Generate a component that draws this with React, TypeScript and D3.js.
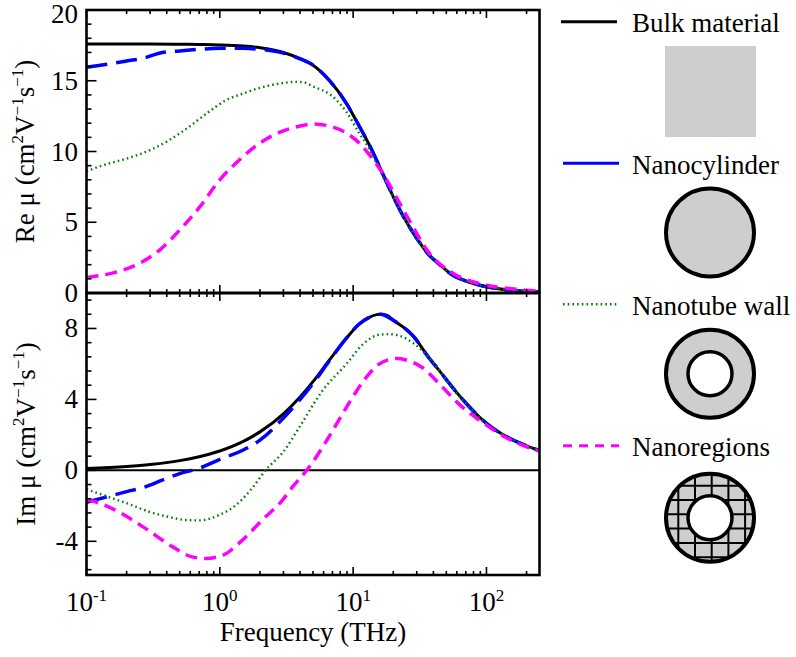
import React from "react";
import * as d3 from "d3";

// ---------- data ----------
const bulkFreq = [0.1, 0.2, 0.3, 0.5, 0.7, 1, 1.5, 2, 3, 4, 5, 6.6, 8.9, 11.1, 13, 15, 16, 18, 20, 25, 28, 37, 44, 56, 70, 100, 150, 200, 250];
const bulkRe = [17.6, 17.6, 17.6, 17.58, 17.56, 17.53, 17.45, 17.33, 17.0, 16.56, 16.1, 15.05, 13.4, 11.8, 10.6, 9.4, 8.8, 7.75, 6.8, 5.05, 4.3, 2.7, 2.05, 1.25, 0.85, 0.44, 0.2, 0.12, 0.08];
const bulkIm = [0.11, 0.22, 0.33, 0.55, 0.77, 1.09, 1.63, 2.17, 3.19, 4.14, 5.0, 6.2, 7.45, 8.25, 8.6, 8.78, 8.8, 8.73, 8.46, 7.95, 7.6, 6.35, 5.65, 4.65, 3.8, 2.65, 1.8, 1.38, 1.12];

const cylFreq = [0.1, 0.15, 0.2, 0.27, 0.37, 0.5, 0.7, 1, 1.5, 2, 3, 4, 5, 6.6, 8.9, 11.1, 13, 16, 20, 25, 28, 37, 44, 56, 70, 100, 150, 200, 250];
const cylRe = [15.95, 16.2, 16.4, 16.6, 17.0, 17.1, 17.22, 17.3, 17.3, 17.22, 16.95, 16.55, 16.1, 15.05, 13.4, 11.8, 10.6, 8.8, 6.8, 5.05, 4.3, 2.7, 2.05, 1.25, 0.85, 0.44, 0.2, 0.12, 0.08];
const cylIm = [-1.8, -1.45, -1.2, -0.95, -0.55, -0.18, 0.12, 0.62, 1.15, 1.7, 2.95, 4.0, 4.9, 6.15, 7.45, 8.25, 8.6, 8.8, 8.46, 7.95, 7.6, 6.35, 5.65, 4.65, 3.8, 2.65, 1.8, 1.38, 1.12];

const tubeReFreq = [0.1, 0.13, 0.2, 0.3, 0.4, 0.56, 0.8, 1.1, 1.5, 2, 2.5, 3, 3.6, 4.2, 5, 7, 8.9, 11.1, 13, 16, 20, 25, 28, 37, 44, 56, 70, 100, 150, 200, 250];
const tubeRe = [8.6, 9.0, 9.5, 10.1, 10.7, 11.6, 12.7, 13.6, 14.1, 14.5, 14.72, 14.84, 14.92, 14.9, 14.6, 13.9, 12.8, 11.3, 10.3, 8.6, 6.75, 5.05, 4.3, 2.72, 2.07, 1.28, 0.86, 0.45, 0.2, 0.12, 0.08];
const tubeImFreq = [0.1, 0.14, 0.2, 0.3, 0.4, 0.56, 0.7, 1.0, 1.3, 1.75, 2.2, 3, 4, 5.9, 8.9, 11.8, 15.8, 18.6, 22, 28, 41.8, 56, 70, 100, 150, 200, 250];
const tubeIm = [-1.07, -1.45, -1.85, -2.35, -2.6, -2.8, -2.82, -2.5, -2.0, -1.0, 0.0, 1.05, 2.5, 4.5, 6.0, 7.1, 7.65, 7.68, 7.6, 7.2, 5.9, 4.6, 3.75, 2.62, 1.8, 1.37, 1.1];

const regReFreq = [0.1, 0.17, 0.25, 0.35, 0.5, 0.71, 1, 1.4, 2, 2.8, 4, 5, 6.6, 8.9, 11.1, 13.3, 16.7, 21, 28, 37, 56, 100, 160, 250];
const regRe = [1.1, 1.5, 2.1, 3.0, 4.45, 6.1, 8.0, 9.4, 10.6, 11.35, 11.8, 11.95, 11.8, 11.3, 10.6, 9.75, 8.45, 6.8, 4.7, 2.85, 1.4, 0.55, 0.28, 0.13];
const regImFreq = [0.1, 0.12, 0.175, 0.28, 0.44, 0.62, 0.78, 1.04, 1.47, 2.08, 2.9, 3.5, 4.7, 6.6, 8.9, 12, 15.7, 21, 25, 33, 44, 62, 100, 158, 250];
const regIm = [-1.65, -1.8, -2.35, -3.3, -4.3, -4.88, -4.97, -4.8, -3.95, -2.8, -1.75, -0.95, 0.2, 1.9, 3.55, 5.05, 6.0, 6.3, 6.22, 5.8, 4.9, 3.75, 2.55, 1.65, 1.08];

const legendLabels = ["Bulk material", "Nanocylinder", "Nanotube wall", "Nanoregions"];
const seriesColors = ["#000000", "#0000ff", "#008000", "#ff00ff"];

const xTickExps = [-1, 0, 1, 2];
const reTicks = [0, 5, 10, 15, 20];
const imTicks = [-4, 0, 4, 8];

// ---------- layout ----------
const W = 796, H = 657;
const L = 86.5, R = 539.5, T = 10, M = 293, B = 575;
const FONT = "'Liberation Serif', 'Times New Roman', Times, 'DejaVu Serif', 'Noto Serif', serif";
const fontStyle = { fontFamily: FONT };

const x = d3.scaleLog().domain([0.1, 250]).range([L, R]);
const yRe = d3.scaleLinear().domain([0, 20]).range([M, T]);
const yIm = d3.scaleLinear().domain([-5.9, 10]).range([B, M]);

const styles = [
  { width: 3, dash: undefined },
  { width: 3.5, dash: "21,9" },
  { width: 2.4, dash: "1.6,3.1" },
  { width: 3.5, dash: "12,7" },
];

function pathFor(fr: number[], vals: number[], y: d3.ScaleLinear<number, number>) {
  const line = d3
    .line<number>()
    .x((_, i) => x(fr[i]))
    .y((v) => y(v))
    .curve(d3.curveMonotoneX);
  return line(vals) || "";
}

const minorX: number[] = [];
[0.1, 1, 10, 100].forEach((d) => {
  for (let k = 2; k <= 9; k++) {
    const v = d * k;
    if (v <= 250) minorX.push(v);
  }
});
const minorRe = d3.range(0, 21).filter((v) => v % 5 !== 0);
const minorIm = d3.range(-7, 13).filter((k) => k % 5 !== 0).map((k) => k * 0.8);

function XTicks({ y0, dir }: { y0: number; dir: number }) {
  return (
    <g stroke="#000" strokeWidth={1.6}>
      {xTickExps.map((e) => (
        <line key={"M" + e} x1={x(Math.pow(10, e))} x2={x(Math.pow(10, e))} y1={y0} y2={y0 + dir * 8} />
      ))}
      {minorX.map((v, i) => (
        <line key={"m" + i} x1={x(v)} x2={x(v)} y1={y0} y2={y0 + dir * 4} />
      ))}
    </g>
  );
}

function SupLabel({ prefix, tx, ty }: { prefix: string; tx: number; ty: number }) {
  return (
    <text transform={`translate(${tx},${ty}) rotate(-90)`} textAnchor="middle" style={fontStyle} fontSize={27} fill="#000">
      {prefix} (cm
      <tspan dy={-11} fontSize={17}>2</tspan>
      <tspan dy={11}>V</tspan>
      <tspan dy={-11} fontSize={17}>−1</tspan>
      <tspan dy={11}>s</tspan>
      <tspan dy={-11} fontSize={17}>−1</tspan>
      <tspan dy={11}>)</tspan>
    </text>
  );
}

export default function App() {
  const reSeries = [
    pathFor(bulkFreq, bulkRe, yRe),
    pathFor(cylFreq, cylRe, yRe),
    pathFor(tubeReFreq, tubeRe, yRe),
    pathFor(regReFreq, regRe, yRe),
  ];
  const imSeries = [
    pathFor(bulkFreq, bulkIm, yIm),
    pathFor(cylFreq, cylIm, yIm),
    pathFor(tubeImFreq, tubeIm, yIm),
    pathFor(regImFreq, regIm, yIm),
  ];

  const legendY = [21.7, 163.3, 304.3, 445.7];
  const cx = 710;
  const rOuter = 44;
  const rInner = 22;
  const gridCy = 517.8;

  return (
    <svg width={W} height={H} style={{ position: "absolute", left: 0, top: 0, background: "#fff", fontFamily: FONT }}>
      <defs>
        <clipPath id="clipRe">
          <rect x={L} y={T} width={R - L} height={M - T} />
        </clipPath>
        <clipPath id="clipIm">
          <rect x={L} y={M} width={R - L} height={B - M} />
        </clipPath>
        <clipPath id="clipRing">
          <path
            clipRule="evenodd"
            d={`M${cx - rOuter},${gridCy} a${rOuter},${rOuter} 0 1,0 ${2 * rOuter},0 a${rOuter},${rOuter} 0 1,0 ${-2 * rOuter},0 Z M${cx - rInner},${gridCy} a${rInner},${rInner} 0 1,0 ${2 * rInner},0 a${rInner},${rInner} 0 1,0 ${-2 * rInner},0 Z`}
          />
        </clipPath>
      </defs>

      {/* zero line in Im panel */}
      <line x1={L} x2={R} y1={yIm(0)} y2={yIm(0)} stroke="#000" strokeWidth={2} />

      {/* curves */}
      <g clipPath="url(#clipRe)" fill="none">
        {reSeries.map((d, i) => (
          <path key={i} d={d} stroke={seriesColors[i]} strokeWidth={styles[i].width} strokeDasharray={styles[i].dash} />
        ))}
      </g>
      <g clipPath="url(#clipIm)" fill="none">
        {imSeries.map((d, i) => (
          <path key={i} d={d} stroke={seriesColors[i]} strokeWidth={styles[i].width} strokeDasharray={styles[i].dash} />
        ))}
      </g>

      {/* frames */}
      <rect x={L} y={T} width={R - L} height={M - T} fill="none" stroke="#000" strokeWidth={2.6} />
      <rect x={L} y={M} width={R - L} height={B - M} fill="none" stroke="#000" strokeWidth={2.6} />

      {/* x ticks */}
      <XTicks y0={T} dir={1} />
      <XTicks y0={M} dir={-1} />
      <XTicks y0={M} dir={1} />
      <XTicks y0={B} dir={-1} />

      {/* y ticks */}
      <g stroke="#000" strokeWidth={1.6}>
        {reTicks.map((v) => (
          <line key={"r" + v} x1={L} x2={L + 10} y1={yRe(v)} y2={yRe(v)} />
        ))}
        {minorRe.map((v) => (
          <line key={"rm" + v} x1={L} x2={L + 5} y1={yRe(v)} y2={yRe(v)} />
        ))}
        {imTicks.map((v) => (
          <line key={"i" + v} x1={L} x2={L + 10} y1={yIm(v)} y2={yIm(v)} />
        ))}
        {minorIm.map((v, i) => (
          <line key={"im" + i} x1={L} x2={L + 5} y1={yIm(v)} y2={yIm(v)} />
        ))}
      </g>

      {/* y tick labels */}
      <g style={fontStyle} fontSize={27} fill="#000" textAnchor="end">
        {reTicks.map((v) => (
          <text key={"rt" + v} x={78} y={v === 20 ? yRe(v) + 13 : yRe(v) + 9}>
            {v}
          </text>
        ))}
        {imTicks.map((v) => (
          <text key={"it" + v} x={78} y={yIm(v) + 9}>
            {v < 0 ? "-" + Math.abs(v) : v}
          </text>
        ))}
      </g>

      {/* x tick labels */}
      <g style={fontStyle} fontSize={27} fill="#000" textAnchor="middle">
        {xTickExps.map((e) => (
          <text key={"xt" + e} x={x(Math.pow(10, e))} y={611}>
            10
            <tspan dy={-10} fontSize={17}>
              {e < 0 ? "-" + Math.abs(e) : String(e)}
            </tspan>
          </text>
        ))}
      </g>

      {/* axis titles */}
      <text x={(L + R) / 2} y={641} textAnchor="middle" style={fontStyle} fontSize={27} fill="#000">
        Frequency (THz)
      </text>
      <SupLabel prefix="Re μ" tx={34} ty={(T + M) / 2} />
      <SupLabel prefix="Im μ" tx={35} ty={(M + B) / 2} />

      {/* legend */}
      {legendLabels.map((lab, i) => (
        <g key={lab}>
          <line
            x1={i === 0 ? 561 : 563}
            x2={i === 0 ? 617 : 619}
            y1={legendY[i]}
            y2={legendY[i]}
            stroke={seriesColors[i]}
            strokeWidth={i === 2 ? 2.4 : 3}
            strokeDasharray={i === 2 ? "1.6,3.1" : i === 3 ? "9,7" : undefined}
          />
          <text x={632} y={legendY[i] + 10.5} style={fontStyle} fontSize={27} fill="#000">
            {lab}
          </text>
        </g>
      ))}

      {/* legend shapes */}
      <rect x={665} y={46} width={91} height={91} fill="#cfcecf" />
      <circle cx={cx} cy={232.5} r={rOuter} fill="#cfcecf" stroke="#000" strokeWidth={4} />
      <circle cx={cx} cy={373.7} r={rOuter} fill="#cfcecf" stroke="#000" strokeWidth={4} />
      <circle cx={cx} cy={373.7} r={rInner} fill="#fff" stroke="#000" strokeWidth={3.5} />
      <circle cx={cx} cy={gridCy} r={rOuter} fill="#cfcecf" stroke="none" />
      <g clipPath="url(#clipRing)" stroke="#000" strokeWidth={2}>
        {d3.range(-3, 4).map((k) => (
          <line key={"gv" + k} x1={cx + 1.7 + k * 16.7} x2={cx + 1.7 + k * 16.7} y1={gridCy - 50} y2={gridCy + 50} />
        ))}
        {d3.range(-4, 5).map((k) => (
          <line key={"gh" + k} x1={cx - 50} x2={cx + 50} y1={gridCy - 3.5 + k * 14.3} y2={gridCy - 3.5 + k * 14.3} />
        ))}
      </g>
      <circle cx={cx} cy={gridCy} r={rOuter} fill="none" stroke="#000" strokeWidth={4} />
      <circle cx={cx} cy={gridCy} r={rInner} fill="#fff" stroke="#000" strokeWidth={3.5} />
    </svg>
  );
}
